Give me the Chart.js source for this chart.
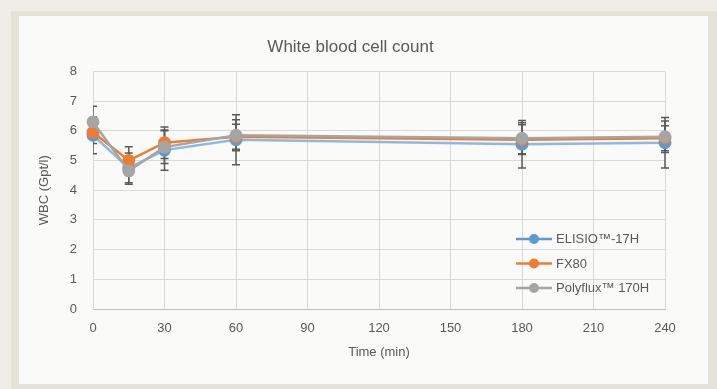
<!DOCTYPE html>
<html>
<head>
<meta charset="utf-8">
<script src="https://cdn.jsdelivr.net/npm/chart.js@4/dist/chart.umd.min.js"></script>
<style>
  html, body { margin: 0; padding: 0; width: 717px; height: 389px; overflow: hidden; background: #efede8; }
  #frame { position: absolute; left: 11px; top: 11px; width: 706px; height: 378px; background: #e5e2da; }
  #panel { position: absolute; left: 19px; top: 16px; width: 689px; height: 368px; background: #fafaf8; }
  #c { position: absolute; left: 0; top: 0; }
</style>
</head>
<body>
<div id="frame"></div>
<div id="panel"></div>
<canvas id="c" width="717" height="389"></canvas>
<script>
// ---- data ----
const chartTitle = 'White blood cell count';
const xTitle = 'Time (min)';
const yTitle = 'WBC (Gpt/l)';
const times = [0, 15, 30, 60, 180, 240];
const seriesNames = ['ELISIO\u2122-17H', 'FX80', 'Polyflux\u2122 170H'];
const elisio = [5.85, 4.75, 5.35, 5.70, 5.55, 5.60];
const elisioSD = [0.62, 0.50, 0.68, 0.84, 0.80, 0.85];
const fx80 = [5.95, 5.00, 5.60, 5.80, 5.70, 5.75];
const fx80SD = [0.38, 0.46, 0.53, 0.42, 0.50, 0.42];
const polyflux = [6.30, 4.65, 5.45, 5.85, 5.75, 5.80];
const polyfluxSD = [0.53, 0.45, 0.55, 0.52, 0.52, 0.53];

const lineColors = ['#8db8e2', '#ed7d31', '#a5a5a5'];
const markerColors = ['#5b9bd5', '#ed7d31', '#a5a5a5'];
const allValues = [elisio, fx80, polyflux];
const allSD = [elisioSD, fx80SD, polyfluxSD];

const textColor = '#595959';
const fontFamily = "'Liberation Sans', Arial, sans-serif";

const datasets = allValues.map((vals, i) => ({
  label: seriesNames[i],
  data: times.map((t, j) => ({ x: t, y: vals[j] })),
  sd: allSD[i],
  order: allValues.length - 1 - i,
  clip: false,
  borderColor: lineColors[i],
  backgroundColor: markerColors[i],
  pointBackgroundColor: markerColors[i],
  pointBorderColor: markerColors[i],
  pointRadius: 5.2,
  pointHoverRadius: 5.2,
  borderWidth: 2.5,
  tension: 0
}));

const errorBars = {
  id: 'errorBars',
  beforeDatasetsDraw(chart) {
    const { ctx, chartArea, scales } = chart;
    ctx.save();
    ctx.beginPath();
    ctx.rect(chartArea.left, chartArea.top - 10, chartArea.right - chartArea.left + 10, chartArea.bottom - chartArea.top + 10);
    ctx.clip();
    ctx.strokeStyle = '#5a5a5a';
    ctx.lineWidth = 1.5;
    chart.data.datasets.forEach(ds => {
      ds.data.forEach((p, j) => {
        const x = scales.x.getPixelForValue(p.x);
        const yTop = scales.y.getPixelForValue(p.y + ds.sd[j]);
        const yBot = scales.y.getPixelForValue(p.y - ds.sd[j]);
        ctx.beginPath();
        ctx.moveTo(x, yTop); ctx.lineTo(x, yBot);
        ctx.moveTo(x - 4, yTop); ctx.lineTo(x + 4, yTop);
        ctx.moveTo(x - 4, yBot); ctx.lineTo(x + 4, yBot);
        ctx.stroke();
      });
    });
    ctx.restore();
  }
};

const insideLegend = {
  id: 'insideLegend',
  afterDraw(chart) {
    const { ctx } = chart;
    ctx.save();
    ctx.font = '13px ' + fontFamily;
    ctx.textBaseline = 'middle';
    ctx.textAlign = 'left';
    const x0 = 516, rowY = [239, 263.5, 288];
    chart.data.datasets.forEach((ds, i) => {
      const y = rowY[i];
      ctx.strokeStyle = ds.pointBackgroundColor;
      ctx.lineWidth = 2.5;
      ctx.beginPath(); ctx.moveTo(x0, y); ctx.lineTo(x0 + 36, y); ctx.stroke();
      ctx.fillStyle = ds.pointBackgroundColor;
      ctx.beginPath(); ctx.arc(x0 + 18, y, 5, 0, Math.PI * 2); ctx.fill();
      ctx.fillStyle = textColor;
      ctx.fillText(ds.label, x0 + 40, y + 0.5);
    });
    ctx.restore();
  }
};

new Chart(document.getElementById('c'), {
  type: 'line',
  data: { datasets },
  plugins: [errorBars, insideLegend],
  options: {
    responsive: false,
    animation: false,
    layout: { padding: { left: 36, right: 52, top: 30, bottom: 29 } },
    plugins: {
      legend: { display: false },
      tooltip: { enabled: false },
      title: {
        display: true,
        text: chartTitle,
        color: textColor,
        font: { family: fontFamily, size: 17, weight: 'normal' },
        padding: { top: 7, bottom: 14 }
      }
    },
    scales: {
      x: {
        type: 'linear',
        min: 0, max: 240,
        afterFit(s) { s.height = 51; },
        ticks: { stepSize: 30, color: textColor, font: { family: fontFamily, size: 13 }, padding: 12, maxRotation: 0 },
        grid: { color: '#d9d9d9', drawTicks: false, lineWidth: 1 },
        border: { color: '#bfbfbf', width: 1 },
        title: { display: true, text: xTitle, color: textColor, font: { family: fontFamily, size: 13 }, padding: 0 }
      },
      y: {
        min: 0, max: 8,
        afterFit(s) { s.width = 57; },
        ticks: { stepSize: 1, color: textColor, font: { family: fontFamily, size: 13 }, padding: 16 },
        grid: { color: '#d9d9d9', drawTicks: false, lineWidth: 1 },
        border: { color: '#d9d9d9', width: 1 },
        title: { display: true, text: yTitle, color: textColor, font: { family: fontFamily, size: 13 }, padding: { top: 1 } }
      }
    }
  }
});
</script>
</body>
</html>
